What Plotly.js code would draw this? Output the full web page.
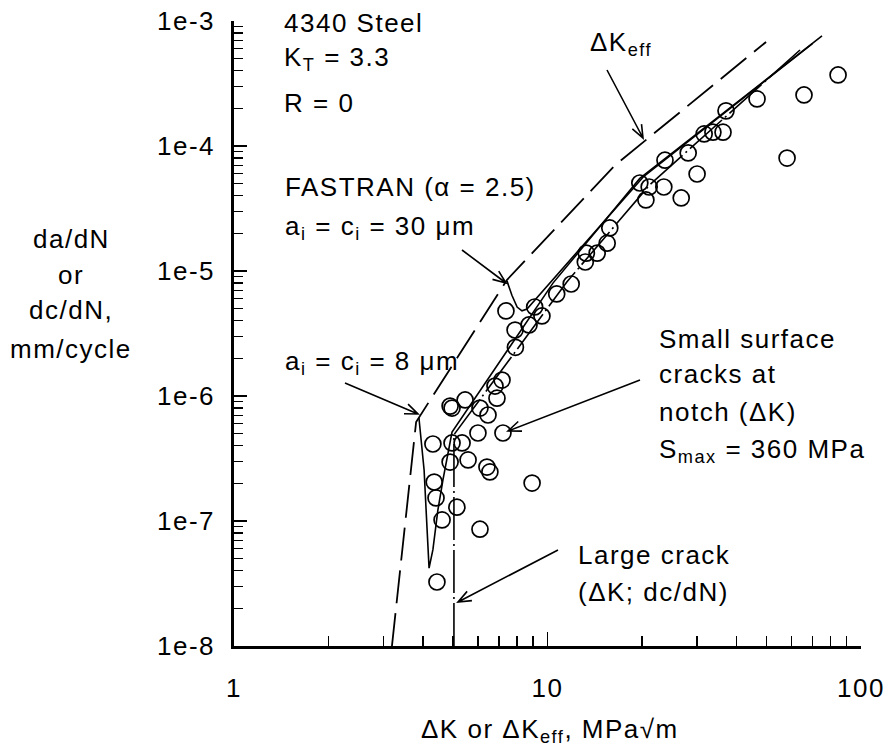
<!DOCTYPE html>
<html><head><meta charset="utf-8">
<script src="https://cdn.plot.ly/plotly-3.0.1.min.js"></script>
<style>html,body{margin:0;padding:0;background:#fff} svg text{letter-spacing:1.5px}</style>
</head><body><div id="chart" style="width:894px;height:751px"></div>
<script>
// ---- data ----
// small surface crack data (open circles)
const smallDK = [84.5,65.8,46.6,37.1,58.1,36.3,33.7,31.6,28.1,23.7,30.0,19.7,21.1,23.5,20.6,26.7,
  15.8,15.5,14.4,13.3,13.2,11.9,10.7,9.6,9.1,8.73,7.88,7.37,7.9,
  7.16,6.80,6.90,5.46,4.89,4.96,6.09,6.46,7.21,6.00,4.31,4.96,5.34,4.89,5.58,6.41,6.55,8.93,
  4.35,4.41,5.14,4.61,6.09,4.44];
const smallRate = [3.70e-4,2.56e-4,2.38e-4,1.91e-4,8.0e-5,1.29e-4,1.29e-4,1.25e-4,8.8e-5,7.7e-5,5.97e-5,5.06e-5,4.70e-5,4.70e-5,3.70e-5,3.84e-5,
  2.21e-5,1.67e-5,1.39e-5,1.39e-5,1.18e-5,7.87e-6,6.55e-6,4.37e-6,5.15e-6,3.70e-6,3.37e-6,4.79e-6,2.45e-6,
  1.34e-6,1.20e-6,9.6e-7,9.3e-7,8.3e-7,8.0e-7,8.0e-7,7.05e-7,5.06e-7,5.06e-7,4.13e-7,4.21e-7,4.21e-7,2.96e-7,3.08e-7,2.70e-7,2.47e-7,2.01e-7,
  2.05e-7,1.53e-7,1.29e-7,1.02e-7,8.6e-8,3.25e-8];
// Delta K_eff curve (dashed)
const keffDK = [3.19,3.81,7.43,16.4,49.8];
const keffRate = [1e-8,6.2e-7,8.5e-6,7.0e-5,6.8e-4];
// FASTRAN a_i = c_i = 8 um (solid)
const f8DK = [3.89,4.04,4.13,4.19,4.31,4.47,4.64,4.82,4.96,10.41,19.7,75.1];
const f8Rate = [6.67e-7,2.56e-7,8.5e-8,4.2e-8,5.9e-8,1.22e-7,2.13e-7,3.5e-7,5.15e-7,8.0e-6,5.5e-5,7.6e-4];
// FASTRAN a_i = c_i = 30 um (solid)
const f30DK = [7.43,7.70,8.0,8.29,8.60,20.2,70.0];
const f30Rate = [8.3e-6,6.4e-6,5.15e-6,4.8e-6,4.97e-6,5.65e-5,6.6e-4];
// Large crack (dash-dot)
const lcDK = [5.03,5.03,11.54,21.2,63.9];
const lcRate = [1e-8,4.9e-7,8.2e-6,4.9e-5,5.86e-4];
// axis ticks
const xTickVals = [1,10,100];
const xTickText = ['1','10','100'];
const yTickVals = [1e-8,1e-7,1e-6,1e-5,1e-4,1e-3];
const yTickText = ['1e-8','1e-7','1e-6','1e-5','1e-4','1e-3'];

// ---- helpers ----
const PL=234, PT=21, PW=627, PH=625;
const X = px => (px-PL)/PW;
const Y = py => (PT+PH-py)/PH;
const Y_LOG_MIN=-8, Y_LOG_MAX=-3;
const yPaper = v => (Math.log10(v)-Y_LOG_MIN)/(Y_LOG_MAX-Y_LOG_MIN);
const FONT = 'Arial, "Liberation Sans", sans-serif';
const FS = 26;

function minorVals(lo, hi){ const v=[]; for(let e=lo;e<hi;e++){ for(let m=2;m<=9;m++) v.push(m*Math.pow(10,e)); } return v; }

const traces = [
  {x:keffDK, y:keffRate, mode:'lines', line:{color:'#000', width:1.8, dash:'33px,10px'}, hoverinfo:'skip'},
  {x:lcDK, y:lcRate, mode:'lines', line:{color:'#000', width:1.6, dash:'43px,4px,2px,4px'}, hoverinfo:'skip'},
  {x:f8DK, y:f8Rate, mode:'lines', line:{color:'#000', width:1.6}, hoverinfo:'skip'},
  {x:f30DK, y:f30Rate, mode:'lines', line:{color:'#000', width:1.6}, hoverinfo:'skip'},
  {x:smallDK, y:smallRate, mode:'markers', marker:{symbol:'circle-open', size:16, color:'#000', line:{width:1.7, color:'#000'}}, hoverinfo:'skip'}
];

function txt(s, px, py, anchor){
  return {text:s, x:X(px), y:Y(py), xref:'paper', yref:'paper', showarrow:false,
          xanchor:anchor||'left', yanchor:'middle', font:{family:FONT, size:FS, color:'#000'}};
}
const annotations = [
  txt('4340 Steel', 282, 23),
  txt('K<sub>T</sub> = 3.3', 282, 58),
  txt('R = 0', 282, 103),
  txt('\u0394K<sub>eff</sub>', 588, 43),
  txt('FASTRAN (\u03b1 = 2.5)', 283, 187),
  txt('a<sub>i</sub> = c<sub>i</sub> = 30 \u03bcm', 283, 227),
  txt('a<sub>i</sub> = c<sub>i</sub> = 8 \u03bcm', 283, 362),
  txt('Small surface', 657, 339),
  txt('cracks at', 657, 374),
  txt('notch (\u0394K)', 657, 412),
  txt('S<sub>max</sub> = 360 MPa', 657, 451),
  txt('Large crack', 576, 555),
  txt('(\u0394K; dc/dN)', 576, 592),
  txt('da/dN', 71, 239, 'center'),
  txt('or', 71, 275, 'center'),
  txt('dc/dN,', 71, 310, 'center'),
  txt('mm/cycle', 71, 349, 'center'),
  txt('\u0394K or \u0394K<sub>eff</sub>, MPa\u221am', 550, 730, 'center')
];
// y tick labels, placed at the tick values
yTickVals.forEach((v,i)=>{
  annotations.push({text:yTickText[i], x:X(217), y:yPaper(v), xref:'paper', yref:'paper', showarrow:false,
    xanchor:'right', yanchor:'middle', font:{family:FONT, size:FS, color:'#000'}});
});

function arrow(x0,y0,x1,y1){
  const L=14, a=0.38;
  const ang=Math.atan2(y0-y1, x0-x1);
  const lx=x1+L*Math.cos(ang+a), ly=y1+L*Math.sin(ang+a);
  const rx=x1+L*Math.cos(ang-a), ry=y1+L*Math.sin(ang-a);
  const p=`M${X(x0)},${Y(y0)}L${X(x1)},${Y(y1)}M${X(lx)},${Y(ly)}L${X(x1)},${Y(y1)}L${X(rx)},${Y(ry)}`;
  return {type:'path', xref:'paper', yref:'paper', path:p, line:{color:'#000', width:1.6}};
}
const shapes = [
  arrow(607,70, 643,138),
  arrow(462,250, 506,283),
  arrow(345,383, 418,414),
  arrow(640,380, 508,431),
  arrow(558,550, 458,602)
];

const layout = {
  width:894, height:751,
  margin:{l:PL, r:894-PL-PW, t:PT, b:751-PT-PH, pad:0},
  paper_bgcolor:'#fff', plot_bgcolor:'#fff',
  showlegend:false,
  font:{family:FONT, size:FS, color:'#000'},
  xaxis:{type:'log', range:[0,2], showgrid:false, zeroline:false, showline:true, linewidth:2.6, linecolor:'#000',
         ticks:'inside', ticklen:14, tickwidth:1.8, tickcolor:'#000', tickvals:xTickVals, ticktext:xTickText,
         tickfont:{family:FONT, size:FS, color:'#000'}, ticklabelstandoff:17,
         minor:{ticks:'inside', ticklen:10, tickwidth:1.5, tickcolor:'#000', tickvals:minorVals(0,2), showgrid:false}},
  yaxis:{type:'log', range:[Y_LOG_MIN,Y_LOG_MAX], showgrid:false, zeroline:false, showline:true, linewidth:2.6, linecolor:'#000',
         ticks:'inside', ticklen:13, tickwidth:1.8, tickcolor:'#000', tickvals:yTickVals, showticklabels:false,
         minor:{ticks:'inside', ticklen:9, tickwidth:1.5, tickcolor:'#000', tickvals:minorVals(-8,-3), showgrid:false}},
  annotations:annotations,
  shapes:shapes
};
Plotly.newPlot('chart', traces, layout, {staticPlot:true, displayModeBar:false});
</script></body></html>
